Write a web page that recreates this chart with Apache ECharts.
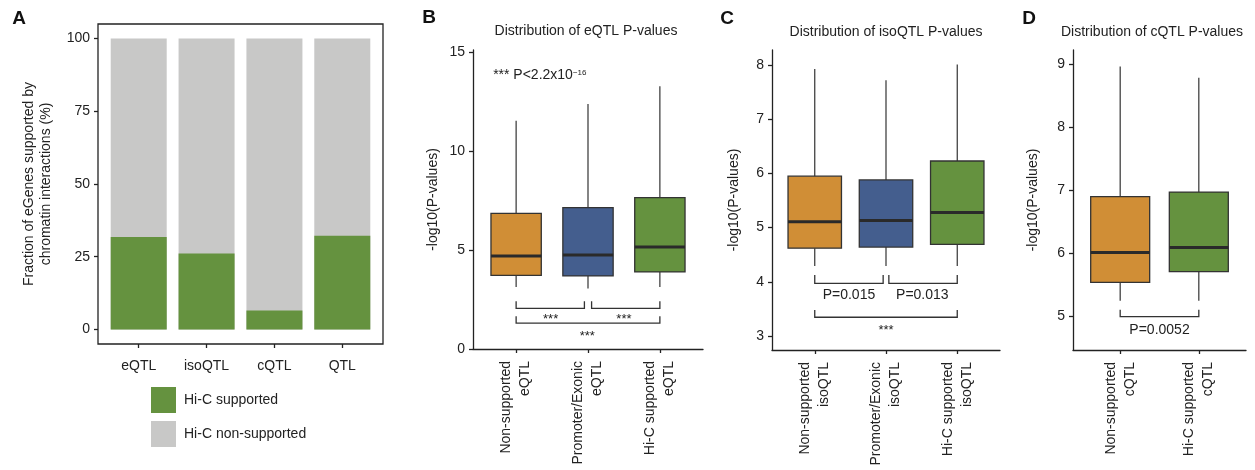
<!DOCTYPE html>
<html><head><meta charset="utf-8">
<script src="https://cdn.jsdelivr.net/npm/echarts@6/dist/echarts.min.js"></script>
<style>html,body{margin:0;padding:0;background:#fff}#c{width:1255px;height:470px}</style>
</head><body><div id="c"></div>
<script>
// ---------- Panel A data ----------
const catsA = ['eQTL', 'isoQTL', 'cQTL', 'QTL'];
const hicSupported = [31.8, 26.1, 6.5, 32.2];
const hicNonSupported = [68.2, 73.9, 93.5, 67.8];
const ticksA = [0, 25, 50, 75, 100];

// ---------- Panel B data (eQTL) ----------
const catsB = ['Non-supported\neQTL', 'Promoter/Exonic\neQTL', 'Hi-C supported\neQTL'];
// [lower whisker, Q1, median, Q3, upper whisker]
const boxB = [
  [3.13, 3.72, 4.70, 6.85, 11.53],
  [3.05, 3.69, 4.75, 7.14, 12.37],
  [3.13, 3.89, 5.15, 7.64, 13.27]
];
// [x1, x2, yLine, yTip]
const bracketsB = [[1, 1.95, 2.05, 2.41], [2.05, 3, 2.05, 2.41], [1, 3, 1.31, 1.65]];
const bracketTextB = ['***', '***', '***'];
const bracketTextPosB = [[1.48, 1.50], [2.50, 1.50], [1.99, 0.66]];
const ticksB = [0, 5, 10, 15];

// ---------- Panel C data (isoQTL) ----------
const catsC = ['Non-supported\nisoQTL', 'Promoter/Exonic\nisoQTL', 'Hi-C supported\nisoQTL'];
const boxC = [
  [4.29, 4.62, 5.11, 5.95, 7.93],
  [4.29, 4.64, 5.13, 5.88, 7.72],
  [4.29, 4.69, 5.28, 6.23, 8.01]
];
const bracketsC = [[1, 1.96, 3.97, 4.125], [2.04, 3, 3.97, 4.125], [1, 3, 3.345, 3.48]];
const bracketTextC = ['P=0.015', 'P=0.013', '***'];
const bracketTextPosC = [[1.48, 3.757], [2.51, 3.757], [2.0, 3.10]];
const ticksC = [3, 4, 5, 6, 7, 8];

// ---------- Panel D data (cQTL) ----------
const catsD = ['Non-supported\ncQTL', 'Hi-C supported\ncQTL'];
const boxD = [
  [5.25, 5.54, 6.015, 6.90, 8.96],
  [5.25, 5.71, 6.094, 6.97, 8.78]
];
const bracketsD = [[1, 2, 5.0, 5.106]];
const bracketTextD = ['P=0.0052'];
const bracketTextPosD = [[1.5, 4.78]];
const ticksD = [5, 6, 7, 8, 9];

const ORANGE = '#d08e36', BLUE = '#445e8e', GREEN = '#65923f', GRAY = '#c8c8c7';
const colorsB = [ORANGE, BLUE, GREEN];
const colorsC = [ORANGE, BLUE, GREEN];
const colorsD = [ORANGE, GREEN];

const FONT = 'Liberation Sans, Arial, Helvetica, sans-serif';
const INK = '#222';

function boxSeries(idx, boxes, colors, widthUnits) {
  return {
    type: 'custom', xAxisIndex: idx, yAxisIndex: idx,
    data: boxes.map((b, i) => [i + 1].concat(b)),
    renderItem: function (params, api) {
      const x = api.value(0);
      const lo = api.coord([x, api.value(1)]);
      const q1 = api.coord([x, api.value(2)]);
      const md = api.coord([x, api.value(3)]);
      const q3 = api.coord([x, api.value(4)]);
      const hi = api.coord([x, api.value(5)]);
      const w = api.size([widthUnits, 0])[0];
      const cx = lo[0];
      return {
        type: 'group', children: [
          { type: 'line', shape: { x1: cx, y1: hi[1], x2: cx, y2: q3[1] }, style: { stroke: '#333', lineWidth: 1.2 } },
          { type: 'line', shape: { x1: cx, y1: q1[1], x2: cx, y2: lo[1] }, style: { stroke: '#333', lineWidth: 1.2 } },
          { type: 'rect', shape: { x: cx - w / 2, y: q3[1], width: w, height: q1[1] - q3[1] },
            style: { fill: colors[params.dataIndex], stroke: '#333', lineWidth: 1.3 } },
          { type: 'line', shape: { x1: cx - w / 2, y1: md[1], x2: cx + w / 2, y2: md[1] }, style: { stroke: '#2a2a2a', lineWidth: 3 } }
        ]
      };
    }
  };
}

function bracketSeries(idx, brackets) {
  return {
    type: 'custom', xAxisIndex: idx, yAxisIndex: idx,
    data: brackets,
    renderItem: function (params, api) {
      const a = api.coord([api.value(0), api.value(3)]);
      const b = api.coord([api.value(0), api.value(2)]);
      const c = api.coord([api.value(1), api.value(2)]);
      const d = api.coord([api.value(1), api.value(3)]);
      return { type: 'polyline', shape: { points: [a, b, c, d] }, style: { stroke: '#333', lineWidth: 1.3, fill: null } };
    }
  };
}

function textSeries(idx, pos, texts, opts) {
  opts = opts || {};
  return {
    type: 'custom', xAxisIndex: idx, yAxisIndex: idx,
    data: pos,
    renderItem: function (params, api) {
      const p = api.coord([api.value(0), api.value(1)]);
      const t = texts[params.dataIndex];
      const star = t === '***';
      return {
        type: 'text', x: p[0], y: p[1],
        style: Object.assign({
          text: t, align: opts.align || 'center', verticalAlign: 'middle',
          font: (star ? '13px ' : '14px ') + FONT, fill: INK
        }, opts.style || {})
      };
    }
  };
}

function catAxisX(idx, min, max, cats, rotate) {
  const vals = cats.map((c, i) => i + 1);
  return {
    gridIndex: idx, type: 'value', min: min, max: max,
    splitLine: { show: false },
    axisLine: { show: idx !== 0, onZero: false, lineStyle: { color: INK, width: 1.3 } },
    axisTick: { show: true, customValues: vals, length: 4, inside: false, lineStyle: { color: INK, width: 1.3 } },
    axisLabel: {
      customValues: vals, rotate: rotate ? 90 : 0, margin: rotate ? 12 : 13,
      fontSize: 14, color: INK, fontFamily: FONT, lineHeight: 19,
      formatter: v => cats[Math.round(v) - 1]
    }
  };
}

function valAxisY(idx, min, max, ticks, name, nameGap) {
  return {
    gridIndex: idx, type: 'value', min: min, max: max,
    splitLine: { show: false },
    axisLine: { show: idx !== 0, onZero: false, lineStyle: { color: INK, width: 1.3 } },
    axisTick: { show: true, customValues: ticks, length: 4, inside: false, lineStyle: { color: INK, width: 1.3 } },
    axisLabel: { customValues: ticks, fontSize: 14, color: INK, fontFamily: FONT, margin: 8 },
    name: name, nameLocation: 'middle', nameGap: nameGap, nameRotate: 90,
    nameTextStyle: { fontSize: 14, color: INK, fontFamily: FONT, lineHeight: 17 }
  };
}

const chart = echarts.init(document.getElementById('c'), null, { renderer: 'canvas' });

const graphics = [];
[['A', 19, 19], ['B', 429, 18], ['C', 727, 19], ['D', 1029, 19]].forEach(([t, x, y]) => {
  graphics.push({ type: 'text', x: x, y: y, style: { text: t, font: 'bold 19px ' + FONT, fill: '#111', align: 'center', verticalAlign: 'middle' } });
});
[['Distribution of eQTL P-values', 586, 31], ['Distribution of isoQTL P-values', 886, 32], ['Distribution of cQTL P-values', 1152, 32]].forEach(([t, x, y]) => {
  graphics.push({ type: 'text', x: x, y: y, style: { text: t, font: '14px ' + FONT, fill: INK, align: 'center', verticalAlign: 'middle' } });
});

const option = {
  animation: false,
  backgroundColor: '#fff',
  textStyle: { fontFamily: FONT },
  graphic: graphics,
  grid: [
    { left: 98, top: 24, width: 285, height: 320, show: true, borderColor: INK, borderWidth: 1.3, backgroundColor: 'transparent' },
    { left: 473, top: 50, width: 230, height: 299 },
    { left: 772, top: 50, width: 228, height: 300 },
    { left: 1073, top: 50, width: 173, height: 300 }
  ],
  xAxis: [
    catAxisX(0, 0.4, 4.6, catsA, false),
    catAxisX(1, 0.4, 3.6, catsB, true),
    catAxisX(2, 0.4, 3.6, catsC, true),
    catAxisX(3, 0.4, 2.6, catsD, true)
  ],
  yAxis: [
    valAxisY(0, -5, 105, ticksA, 'Fraction of eGenes supported by\nchromatin interactions (%)', 43),
    valAxisY(1, 0, 15.1, ticksB, '-log10(P-values)', 31),
    valAxisY(2, 2.74, 8.28, ticksC, '-log10(P-values)', 29),
    valAxisY(3, 4.47, 9.22, ticksD, '-log10(P-values)', 31)
  ],
  legend: {
    left: 146, top: 382, orient: 'vertical', itemWidth: 25, itemHeight: 26, itemGap: 8,
    icon: 'rect', selectedMode: false,
    textStyle: { fontSize: 14, color: INK, fontFamily: FONT, padding: [0, 0, 0, 3] },
    data: ['Hi-C supported', 'Hi-C non-supported']
  },
  series: [
    // non-supported stacked above supported: bar spans from 0 to the total, supported drawn over it
    { name: 'Hi-C non-supported', type: 'bar', xAxisIndex: 0, yAxisIndex: 0, barWidth: 56, barGap: '-100%',
      itemStyle: { color: GRAY }, data: hicNonSupported.map((v, i) => [i + 1, v + hicSupported[i]]) },
    { name: 'Hi-C supported', type: 'bar', xAxisIndex: 0, yAxisIndex: 0, barWidth: 56, barGap: '-100%', z: 3,
      itemStyle: { color: GREEN }, data: hicSupported.map((v, i) => [i + 1, v]) },
    boxSeries(1, boxB, colorsB, 0.7),
    bracketSeries(1, bracketsB),
    textSeries(1, bracketTextPosB, bracketTextB),
    textSeries(1, [[0.68, 13.81]], ['*** P<2.2x10{sup|\u221216}'], {
      align: 'left', style: { font: '14px ' + FONT, rich: { sup: { fontSize: 8, verticalAlign: 'top', fill: INK, fontFamily: FONT } } }
    }),
    boxSeries(2, boxC, colorsC, 0.75),
    bracketSeries(2, bracketsC),
    textSeries(2, bracketTextPosC, bracketTextC),
    boxSeries(3, boxD, colorsD, 0.75),
    bracketSeries(3, bracketsD),
    textSeries(3, bracketTextPosD, bracketTextD)
  ]
};
chart.setOption(option);
</script>
</body></html>
